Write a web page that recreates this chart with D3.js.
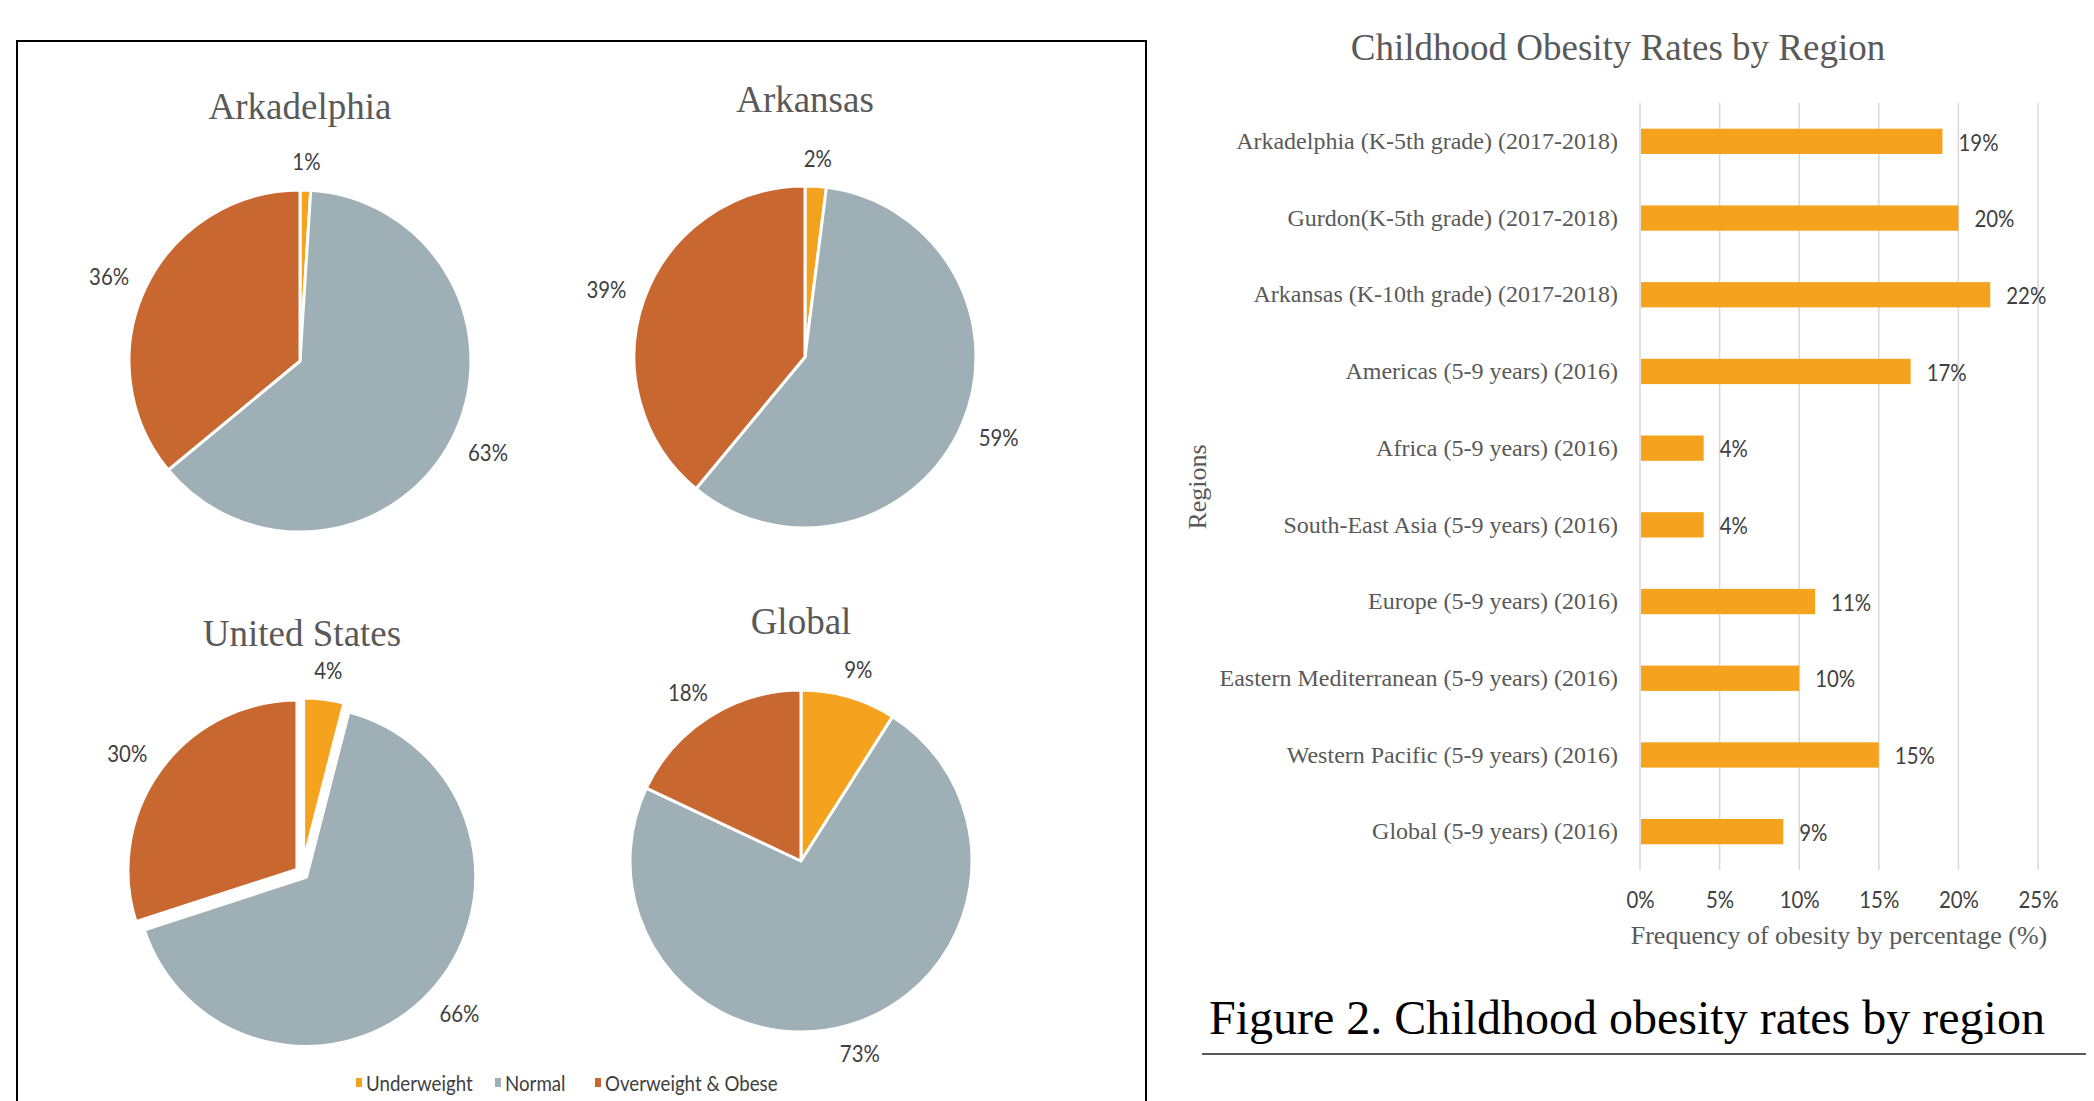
<!DOCTYPE html>
<html>
<head>
<meta charset="utf-8">
<script src="https://cdn.jsdelivr.net/npm/d3@7"></script>
<style>
  html, body { margin: 0; padding: 0; background: #fff; }
  svg { display: block; }
</style>
</head>
<body>
<svg id="chart" width="2094" height="1101"></svg>
<script>
// ---------- DATA ----------
const pieTitles = ["Arkadelphia", "Arkansas", "United States", "Global"];
const pieCategories = ["Underweight", "Normal", "Overweight & Obese"];
const underweight = [1, 2, 4, 9];
const normal = [63, 59, 66, 73];
const overweight = [36, 39, 30, 18];

const regions = [
  "Arkadelphia (K-5th grade) (2017-2018)",
  "Gurdon(K-5th grade) (2017-2018)",
  "Arkansas (K-10th grade) (2017-2018)",
  "Americas (5-9 years) (2016)",
  "Africa (5-9 years) (2016)",
  "South-East Asia (5-9 years) (2016)",
  "Europe (5-9 years) (2016)",
  "Eastern Mediterranean (5-9 years) (2016)",
  "Western Pacific (5-9 years) (2016)",
  "Global (5-9 years) (2016)"
];
const obesityRates = [19, 20, 22, 17, 4, 4, 11, 10, 15, 9];
const xTickValues = [0, 5, 10, 15, 20, 25];

// ---------- STYLE ----------
const colors = ["#F5A31F", "#9EAFB5", "#C8672F"];
const serif = "'Liberation Serif', 'Times New Roman', serif";
const sans = "Lato, 'Open Sans', sans-serif";
const SX = 0.85;   // horizontal squeeze to mimic the narrow humanist labels
const gray = "#595959";
const dark = "#404040";

const svg = d3.select("#chart");
svg.append("rect").attr("width", 2094).attr("height", 1101).attr("fill", "#fff");

function narrowText(parent, x, y, txt, size, anchor) {
  return parent.append("text")
    .attr("transform", `translate(${x},${y}) scale(${SX},1)`)
    .attr("text-anchor", anchor || "start")
    .attr("dominant-baseline", "central")
    .attr("font-family", sans)
    .attr("font-size", size)
    .attr("fill", dark)
    .text(txt);
}

// ---------- LEFT PANEL (PIES) ----------
svg.append("path")
  .attr("d", "M17,1101 L17,41 L1146,41 L1146,1101")
  .attr("fill", "none").attr("stroke", "#000").attr("stroke-width", 2);

const pieLayout = [
  { cx: 300, cy: 361, ty: 119, explode: 0 },
  { cx: 805, cy: 357, ty: 112, explode: 0 },
  { cx: 302, cy: 873, ty: 646, explode: 5 },
  { cx: 801, cy: 861, ty: 634, explode: 0 }
];
const R = 171;
const LABEL_GAP = 20;
const pie = d3.pie().sort(null).value(d => d.v);
const arc = d3.arc().innerRadius(0).outerRadius(R);

pieTitles.forEach((title, i) => {
  const L = pieLayout[i];
  const g = svg.append("g").attr("transform", `translate(${L.cx},${L.cy})`);
  const data = [underweight[i], normal[i], overweight[i]].map((v, k) => ({ v, k }));
  const arcs = pie(data);

  g.selectAll("path.slice").data(arcs).enter().append("path")
    .attr("class", "slice")
    .attr("d", arc)
    .attr("fill", d => colors[d.data.k])
    .attr("stroke", "#fff")
    .attr("stroke-width", L.explode ? 5 : 3)
    .attr("stroke-linejoin", "round")
    .attr("transform", d => {
      const a = (d.startAngle + d.endAngle) / 2;
      return `translate(${L.explode * Math.sin(a)},${-L.explode * Math.cos(a)})`;
    });

  arcs.forEach(d => {
    const a = (d.startAngle + d.endAngle) / 2;
    const ux = Math.sin(a), uy = -Math.cos(a);
    const t = narrowText(g, 0, 0, d.data.v + "%", 24, "middle");
    const w = t.node().getComputedTextLength() * SX;
    const h = 18;
    const dist = R + L.explode + LABEL_GAP;
    const lx = dist * ux + (w / 2) * ux;
    const ly = dist * uy + (h / 2) * uy;
    t.attr("transform", `translate(${lx},${ly}) scale(${SX},1)`);
  });

  svg.append("text")
    .attr("x", L.cx).attr("y", L.ty)
    .attr("text-anchor", "middle")
    .attr("font-family", serif)
    .attr("font-size", 37)
    .attr("fill", gray)
    .text(title);
});

// legend
const legendX = [356, 495, 595];
pieCategories.forEach((c, k) => {
  svg.append("rect")
    .attr("x", legendX[k]).attr("y", 1078)
    .attr("width", 6).attr("height", 9)
    .attr("fill", colors[k]);
  narrowText(svg, legendX[k] + 10, 1082, c, 22, "start");
});

// ---------- RIGHT PANEL (BAR CHART) ----------
const x = d3.scaleLinear().domain([0, 25]).range([1640, 2038]);
const y = d3.scaleBand().domain(regions).range([103, 870]).paddingInner(0.67).paddingOuter(0.335);

svg.append("text")
  .attr("x", 1618).attr("y", 60)
  .attr("text-anchor", "middle")
  .attr("font-family", serif)
  .attr("font-size", 37)
  .attr("fill", gray)
  .text("Childhood Obesity Rates by Region");

// gridlines
svg.append("g").selectAll("line").data(xTickValues).enter().append("line")
  .attr("x1", d => x(d)).attr("x2", d => x(d))
  .attr("y1", 103).attr("y2", 870)
  .attr("stroke", "#d9d9d9").attr("stroke-width", 1.5);

// bars
svg.append("g").selectAll("rect").data(regions).enter().append("rect")
  .attr("x", x(0) + 1)
  .attr("y", d => y(d))
  .attr("width", (d, i) => x(obesityRates[i]) - x(0) - 1)
  .attr("height", y.bandwidth())
  .attr("fill", colors[0]);

// value labels
const vg = svg.append("g");
regions.forEach((r, i) => {
  narrowText(vg, x(obesityRates[i]) + 16, y(r) + y.bandwidth() / 2, obesityRates[i] + "%", 24, "start");
});

// category axis
const yAxis = d3.axisLeft(y).tickSize(0).tickPadding(0);
const yg = svg.append("g").attr("transform", "translate(1618,0)").call(yAxis);
yg.select(".domain").remove();
yg.selectAll("text")
  .attr("font-family", serif)
  .attr("font-size", 24)
  .attr("fill", gray);

// x axis
const xAxis = d3.axisBottom(x).tickValues(xTickValues).tickSize(0).tickPadding(0).tickFormat(d => d + "%");
const xg = svg.append("g").attr("transform", "translate(0,899)").call(xAxis);
xg.select(".domain").remove();
xg.selectAll("text")
  .attr("y", 0)
  .attr("dy", null)
  .attr("transform", `scale(${SX},1)`)
  .attr("dominant-baseline", "central")
  .attr("font-family", sans)
  .attr("font-size", 24)
  .attr("fill", dark);

// axis titles
svg.append("text")
  .attr("transform", "translate(1206,487) rotate(-90)")
  .attr("text-anchor", "middle")
  .attr("font-family", serif)
  .attr("font-size", 26)
  .attr("fill", gray)
  .text("Regions");

svg.append("text")
  .attr("x", 1839).attr("y", 944)
  .attr("text-anchor", "middle")
  .attr("font-family", serif)
  .attr("font-size", 26)
  .attr("fill", gray)
  .text("Frequency of obesity by percentage (%)");

// figure caption
svg.append("text")
  .attr("x", 1209).attr("y", 1034)
  .attr("font-family", serif)
  .attr("font-size", 48)
  .attr("fill", "#000")
  .text("Figure 2. Childhood obesity rates by region");

svg.append("line")
  .attr("x1", 1202).attr("x2", 2086)
  .attr("y1", 1054).attr("y2", 1054)
  .attr("stroke", "#222").attr("stroke-width", 1.5);
</script>
</body>
</html>
